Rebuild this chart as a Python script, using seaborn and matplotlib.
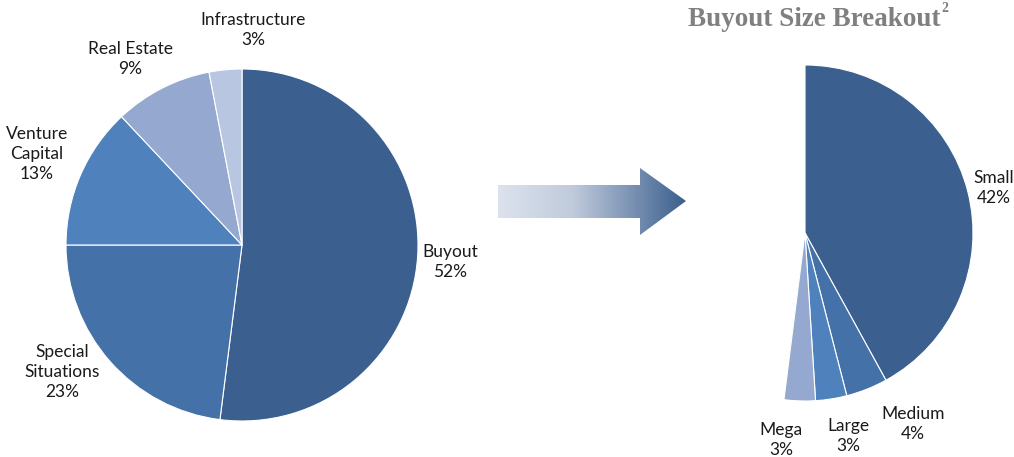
import numpy as np
import matplotlib
matplotlib.use("Agg")
import matplotlib.pyplot as plt
from matplotlib.patches import Polygon
from matplotlib.colors import LinearSegmentedColormap
import seaborn as sns

# ---- data ----
left_labels = ["Buyout", "Special\nSituations", "Venture\nCapital", "Real Estate", "Infrastructure"]
left_values = [52, 23, 13, 9, 3]
right_labels = ["Small", "Medium", "Large", "Mega"]
right_values = [42, 4, 3, 3]
title_text = "Buyout Size Breakout"

palette = ["#3B5F8E", "#4471A7", "#4F81BD", "#95A9D0", "#B9C6E1"]

sns.set_theme(style="white")
plt.rcParams["font.family"] = ["Lato", "DejaVu Sans"]

W, H = 1014, 457
fig = plt.figure(figsize=(W / 100, H / 100), dpi=100)
ax = fig.add_axes([0, 0, 1, 1])
ax.set_xlim(0, W)
ax.set_ylim(0, H)
ax.set_aspect("equal")
ax.axis("off")

# left pie
ax.pie([v / 100 for v in left_values], colors=palette, startangle=90, counterclock=False,
       center=(242, H - 245), radius=176, normalize=False, frame=True,
       wedgeprops=dict(edgecolor="white", linewidth=0.8))
# right partial pie
ax.pie([v / 100 for v in right_values], colors=palette[:4], startangle=90, counterclock=False,
       center=(805, H - 233), radius=168, normalize=False, frame=True,
       wedgeprops=dict(edgecolor="white", linewidth=0.8))
ax.set_xlim(0, W)
ax.set_ylim(0, H)
ax.axis("off")

fs = 12.5
tc = "#1a1a1a"
left_pos = [(450, 262), (62, 372), (37, 154), (130, 59), (253, 30)]
for lab, v, (x, y) in zip(left_labels, left_values, left_pos):
    ax.text(x, H - y, f"{lab}\n{v}%", ha="center", va="center", fontsize=fs, color=tc, linespacing=1.3)

right_pos = [(994, 188), (913, 424), (848, 436), (781, 440)]
for lab, v, (x, y) in zip(right_labels, right_values, right_pos):
    ax.text(x, H - y, f"{lab}\n{v}%", ha="center", va="center", fontsize=fs, color=tc, linespacing=1.3)

# title
ax.text(814.5, H - 19, title_text, ha="center", va="center", fontsize=19.5, fontweight="bold",
        color="#808080", family="Liberation Serif")
ax.text(945, H - 9, "2", ha="center", va="center", fontsize=10, fontweight="bold",
        color="#808080", family="Liberation Serif")

# gradient arrow
arrow_pts = np.array([(498, H - 185), (640, H - 185), (640, H - 168), (686, H - 201),
                      (640, H - 235), (640, H - 218), (498, H - 218)])
poly = Polygon(arrow_pts, closed=True, facecolor="none", edgecolor="none")
ax.add_patch(poly)
cmap = LinearSegmentedColormap.from_list("arr", [(0, "#DCE3EE"), (0.4, "#BFCADB"), (1, "#3B5F8E")])
grad = np.linspace(0, 1, 256)[None, :]
im = ax.imshow(grad, extent=(498, 686, H - 235, H - 168), cmap=cmap, aspect="auto",
               interpolation="bilinear", origin="lower")
im.set_clip_path(poly)
ax.set_xlim(0, W)
ax.set_ylim(0, H)

fig.savefig("out.png", dpi=100, facecolor="white")
